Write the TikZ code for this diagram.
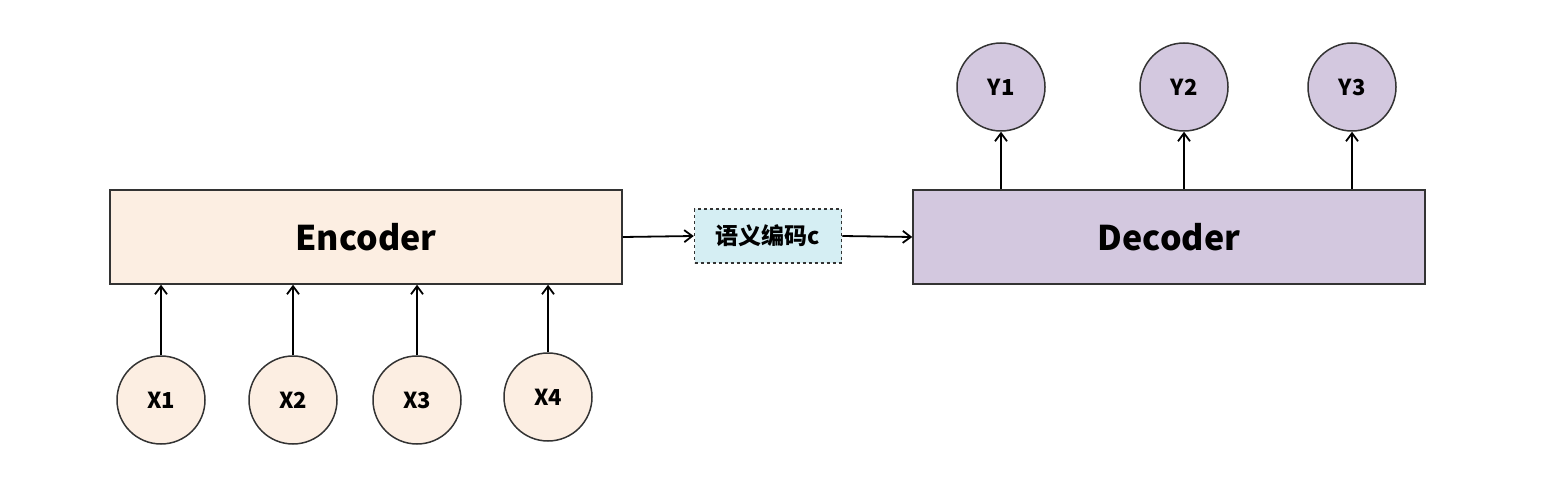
\documentclass[tikz,border=0pt]{standalone}
\usepackage{fontspec}
\setmainfont{Noto Sans CJK SC}
\usetikzlibrary{arrows.meta,positioning,calc}
\definecolor{encfill}{HTML}{FCEEE2}
\definecolor{decfill}{HTML}{D3C8DF}
\definecolor{cfill}{HTML}{D5EEF3}
\begin{document}
\begin{tikzpicture}[x=1pt,y=-1pt,
  box/.style={draw=black!80,line width=1.5pt,minimum width=512pt,minimum height=94pt,font=\bfseries\fontsize{34}{40}\selectfont},
  io/.style={circle,draw=black!80,line width=1.5pt,minimum size=88pt,inner sep=0pt,font=\bfseries\fontsize{22}{26}\selectfont},
  arr/.style={-{Straight Barb[length=8pt,width=12pt]},line width=1.8pt}]
\useasboundingbox (0,0) rectangle (1549,478);
% Boxes
\node[box,fill=encfill] (enc) at (366,237) {Encoder};
\node[box,fill=decfill] (dec) at (1169,237) {Decoder};
\node[draw=black!80,dashed,line width=1.5pt,fill=cfill,minimum width=147pt,minimum height=54pt,inner sep=0pt,
  font=\bfseries\fontsize{23}{26}\selectfont] (c) at (768,236) {语义编码c};

% Inputs
\foreach \n/\x/\y in {1/161/400, 2/293/400, 3/417/400, 4/548/397}
{
  \node[io,fill=encfill] (x\n) at (\x,\y) {X\n};
  \draw[arr] (x\n) -- (x\n |- enc.south);
}

% Outputs
\foreach \n/\x in {1/1001, 2/1184, 3/1352}
{
  \node[io,fill=decfill] (y\n) at (\x,87) {Y\n};
  \draw[arr] (y\n |- dec.north) -- (y\n);
}

% Context
\draw[arr] (enc.east) -- (c.west);
\draw[arr] (c.east) -- (dec.west);
\end{tikzpicture}
\end{document}
